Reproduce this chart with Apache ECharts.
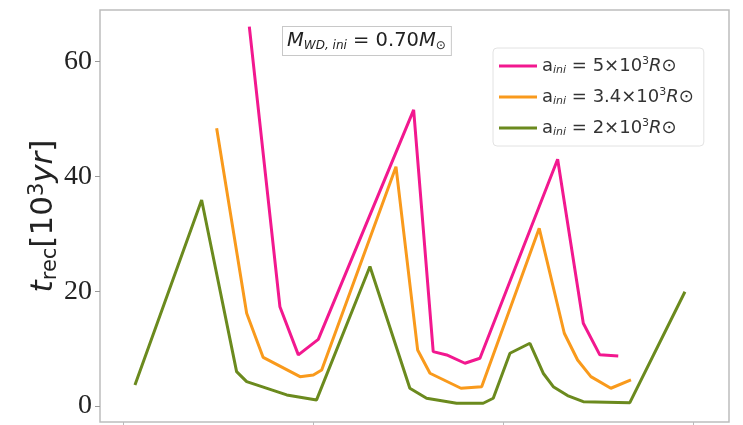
<!DOCTYPE html>
<html>
<head>
<meta charset="utf-8">
<script src="https://cdn.jsdelivr.net/npm/echarts@6/dist/echarts.min.js"></script>
<style>
html,body{margin:0;padding:0;background:#fff;}
#chart{width:743px;height:425px;}
</style>
</head>
<body>
<div id="chart"></div>
<script>
// Data (x in arbitrary axis units, y in 10^3 yr)
const seriesNames = ['a5', 'a34', 'a2'];
const legendLabels = {
  a5: '{n|a}{s|ini}{n| = 5×10}{p|3}{i|R⊙}',
  a34: '{n|a}{s|ini}{n| = 3.4×10}{p|3}{i|R⊙}',
  a2: '{n|a}{s|ini}{n| = 2×10}{p|3}{i|R⊙}'
};
const pinkX = [6.65, 8.26, 9.23, 10.28, 15.3, 16.33, 17.04, 18.0, 18.79, 22.88, 24.23, 25.1, 26.07];
const pinkY = [66.1, 17.3, 8.9, 11.6, 51.6, 9.46, 8.89, 7.44, 8.31, 43.0, 14.4, 8.9, 8.7];
const orangeX = [4.93, 6.51, 7.38, 9.32, 10.02, 10.46, 14.37, 15.51, 16.16, 17.79, 18.88, 21.91, 23.23, 23.93, 24.63, 25.68, 26.74];
const orangeY = [48.4, 16.15, 8.45, 5.1, 5.4, 6.27, 41.7, 9.76, 5.7, 3.08, 3.36, 30.96, 12.67, 8.0, 5.1, 3.08, 4.53];
const greenX = [0.63, 4.14, 5.98, 6.51, 8.62, 10.19, 13.0, 15.1, 15.98, 17.56, 18.96, 19.49, 20.37, 21.42, 22.12, 22.65, 23.4, 24.23, 26.68, 29.58];
const greenY = [3.66, 35.9, 5.98, 4.23, 1.92, 1.05, 24.3, 3.08, 1.34, 0.47, 0.47, 1.34, 9.18, 10.92, 5.7, 3.36, 1.8, 0.75, 0.57, 19.9];
const yTicks = [0, 20, 40, 60];
const xTicks = [0, 10, 20, 30];
const colors = ['#f2188f', '#f99a1c', '#6b8a1e'];

function pairs(xs, ys) { return xs.map((x, i) => [x, ys[i]]); }

const chart = echarts.init(document.getElementById('chart'), null, {renderer: 'canvas'});
const lineSeries = [
  {name: 'a5', data: pairs(pinkX, pinkY)},
  {name: 'a34', data: pairs(orangeX, orangeY)},
  {name: 'a2', data: pairs(greenX, greenY)}
].map((s, i) => ({
  type: 'line', name: s.name, data: s.data, symbol: 'none', animation: false,
  lineStyle: {color: colors[i], width: 3}, itemStyle: {color: colors[i]}
}));

chart.setOption({
  animation: false,
  grid: {left: 100, right: 14, top: 10, bottom: 3, show: true, borderColor: '#bdbdbd', borderWidth: 1.5},
  xAxis: {
    type: 'value', min: -1.21, max: 31.9,
    axisLine: {show: false, onZero: false},
    splitLine: {show: false},
    axisTick: {show: true, customValues: xTicks, length: 4, lineStyle: {color: '#bbb'}},
    axisLabel: {show: false}
  },
  yAxis: {
    type: 'value', min: -2.8, max: 69.0,
    axisLine: {show: false, onZero: false},
    splitLine: {show: false},
    axisTick: {show: true, customValues: yTicks, length: 5, lineStyle: {color: '#999'}},
    axisLabel: {customValues: yTicks, fontFamily: 'Liberation Serif', fontSize: 28, color: '#222', margin: 8},
    name: '{i|t}{s|rec}{n|[10}{p|3}{i|yr}{n|]}',
    nameLocation: 'middle', nameRotate: 90, nameGap: 39, nameMoveOverlap: false,
    nameTextStyle: {
      rich: {
        i: {fontFamily: 'DejaVu Sans', fontStyle: 'italic', fontSize: 31, color: '#222'},
        n: {fontFamily: 'DejaVu Sans', fontSize: 31, color: '#222'},
        s: {fontFamily: 'DejaVu Sans', fontSize: 21, color: '#222', verticalAlign: 'bottom', lineHeight: 34},
        p: {fontFamily: 'DejaVu Sans', fontSize: 21, color: '#222', verticalAlign: 'top', lineHeight: 34}
      }
    }
  },
  legend: {
    data: seriesNames,
    orient: 'vertical', left: 493, top: 48,
    backgroundColor: '#fff', borderColor: '#e2e2e2', borderWidth: 1, borderRadius: 4,
    padding: [8, 10, 8, 6],
    itemWidth: 38, itemHeight: 3, itemGap: 11, icon: 'rect',
    formatter: name => legendLabels[name],
    textStyle: {
      color: '#333',
      rich: {
        n: {fontFamily: 'DejaVu Sans', fontSize: 18, color: '#333'},
        i: {fontFamily: 'DejaVu Sans', fontStyle: 'italic', fontSize: 18, color: '#333'},
        s: {fontFamily: 'DejaVu Sans', fontStyle: 'italic', fontSize: 11, color: '#333', verticalAlign: 'bottom', lineHeight: 20},
        p: {fontFamily: 'DejaVu Sans', fontSize: 11, color: '#333', verticalAlign: 'top', lineHeight: 20}
      }
    }
  },
  graphic: [{
    type: 'text', left: 282, top: 26, z: 100,
    style: {
      text: '{i|M}{s|WD, ini}{n| = 0.70}{i|M}{s|⊙}',
      backgroundColor: '#fff', borderColor: '#c8c8c8', borderWidth: 1,
      padding: [3, 5, 3, 4],
      rich: {
        n: {fontFamily: 'DejaVu Sans', fontSize: 19.5, fill: '#222'},
        i: {fontFamily: 'DejaVu Sans', fontStyle: 'italic', fontSize: 19.5, fill: '#222'},
        s: {fontFamily: 'DejaVu Sans', fontStyle: 'italic', fontSize: 12, fill: '#222', verticalAlign: 'bottom', lineHeight: 22}
      }
    }
  }],
  series: lineSeries
});
</script>
</body>
</html>
